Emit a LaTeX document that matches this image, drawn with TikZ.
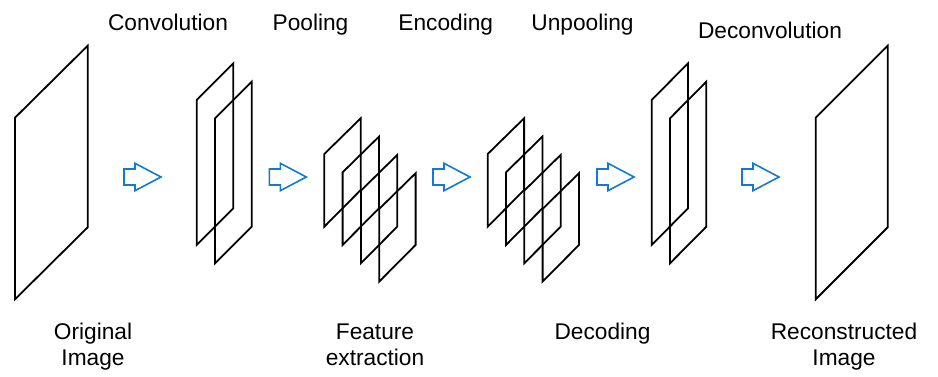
\documentclass[tikz,border=0pt]{standalone}
\usepackage{fontspec}
\setmainfont{Liberation Sans}
\definecolor{flowblue}{RGB}{18,122,212}
\begin{document}
\begin{tikzpicture}[x=1pt,y=-1pt,
	plane/.style={line width=1.8pt,line join=miter},
	flow/.style={draw=flowblue,line width=1.6pt,line join=miter},
	lbl/.style={anchor=base,inner sep=0pt,align=center,font=\fontsize{22.7}{26.5}\selectfont}]
	\useasboundingbox (0,0) rectangle (938,377);

	% input image
	\draw[plane] (15,117.7) -- (87.7,45.7) -- (87.7,227.3) -- (15,299.3) -- cycle;

	% convolution
	\draw[plane] (196.7,100) -- (233.3,63.3) -- (233.3,208.3) -- (196.7,245) -- cycle;
	\draw[plane] (215,118.3) -- (251.7,81.7) -- (251.7,226.7) -- (215,263.3) -- cycle;

	% pooling
	\draw[plane] (324.3,154) -- (360.7,118.3) -- (360.7,190) -- (324.3,226.7) -- cycle;
	\draw[plane] (342.6,172.3) -- (379,136.6) -- (379,208.3) -- (342.6,245) -- cycle;
	\draw[plane] (360.9,190.6) -- (397.3,154.9) -- (397.3,226.6) -- (360.9,263.3) -- cycle;
	\draw[plane] (379.2,208.9) -- (415.6,173.2) -- (415.6,244.9) -- (379.2,281.6) -- cycle;

	% unpooling
	\draw[plane] (487.7,154) -- (524.1,118.3) -- (524.1,190) -- (487.7,226.7) -- cycle;
	\draw[plane] (506,172.3) -- (542.4,136.6) -- (542.4,208.3) -- (506,245) -- cycle;
	\draw[plane] (524.3,190.6) -- (560.7,154.9) -- (560.7,226.6) -- (524.3,263.3) -- cycle;
	\draw[plane] (542.6,208.9) -- (579,173.2) -- (579,244.9) -- (542.6,281.6) -- cycle;

	% deconvolution
	\draw[plane] (651.7,100) -- (688,63.3) -- (688,208.3) -- (651.7,245) -- cycle;
	\draw[plane] (670,118.3) -- (706.3,81.7) -- (706.3,226.7) -- (670,263.3) -- cycle;

	% output image
	\draw[plane] (815.7,117.7) -- (887.7,45.7) -- (887.7,227.3) -- (815.7,299.3) -- cycle;

	% block arrows
	\draw[flow] (124,169) -- (135,169) -- (135,163.3) -- (161,177) -- (135,190.7) -- (135,185) -- (124,185) -- cycle;
	\draw[flow] (269.3,169) -- (280.3,169) -- (280.3,163.3) -- (306.3,177) -- (280.3,190.7) -- (280.3,185) -- (269.3,185) -- cycle;
	\draw[flow] (433,169) -- (444,169) -- (444,163.3) -- (470,177) -- (444,190.7) -- (444,185) -- (433,185) -- cycle;
	\draw[flow] (597,169) -- (608,169) -- (608,163.3) -- (634,177) -- (608,190.7) -- (608,185) -- (597,185) -- cycle;
	\draw[flow] (742,169) -- (753,169) -- (753,163.3) -- (779,177) -- (753,190.7) -- (753,185) -- (742,185) -- cycle;

	% labels
	\node[lbl] (conv) at (168,30.5) {Convolution};
	\node[lbl] (pool) at (310.5,30.5) {Pooling};
	\node[lbl] (enc) at (445.8,30.5) {Encoding};
	\node[lbl] (unpool) at (582.5,30.5) {Unpooling};
	\node[lbl] (deconv) at (770,38.3) {Deconvolution};

	% two-line labels sit on the baseline of their last line
	\node[lbl] (orig) at (93,365.5) {Original\\Image};
	\node[lbl] (feat) at (375,365.5) {Feature\\extraction};
	\node[lbl] (dec) at (602.5,339) {Decoding};
	\node[lbl] (recon) at (844,365.5) {Reconstructed\\Image};
\end{tikzpicture}
\end{document}
